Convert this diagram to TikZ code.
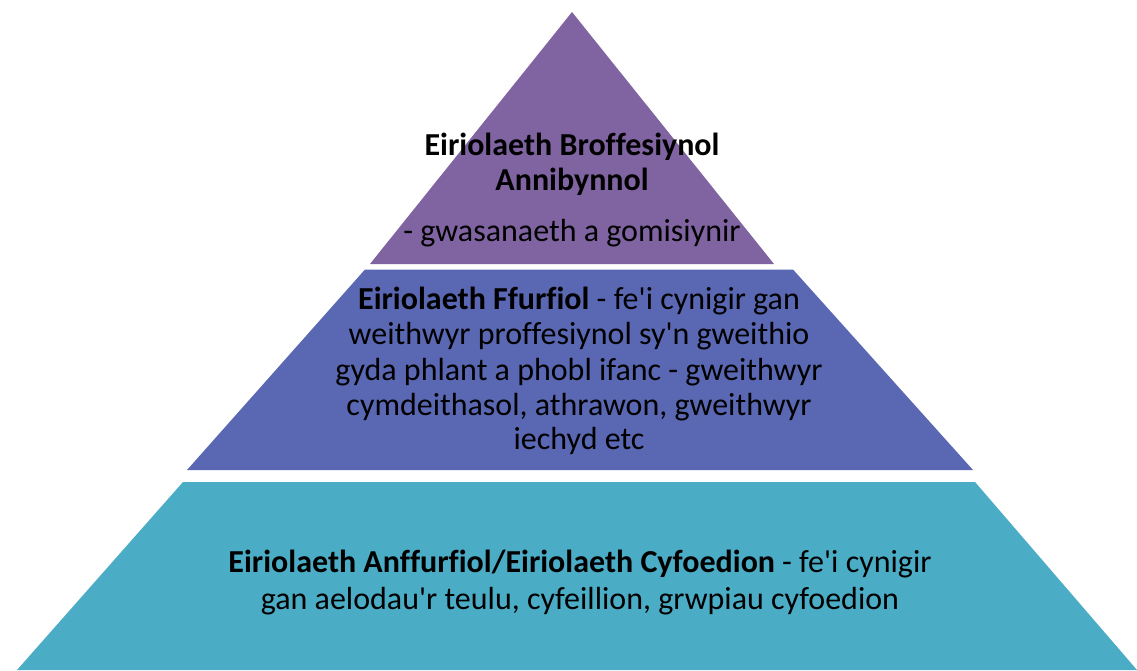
\documentclass[tikz,border=0pt]{standalone}
\usepackage{fontspec}
\setmainfont{Carlito}[Ligatures={NoCommon}]
\definecolor{toplayer}{HTML}{8064A2}
\definecolor{midlayer}{HTML}{5A67B3}
\definecolor{botlayer}{HTML}{4BACC6}
\newcommand{\ap}{\textquotesingle}
\begin{document}
\begin{tikzpicture}[x=1pt,y=-1pt,
  lbl/.style={anchor=base,inner sep=0pt,text=black,font=\fontsize{32}{35}\selectfont}]
\useasboundingbox (0,0) rectangle (1137,670);
\fill[white] (0,0) rectangle (1137,670);
% layers
\fill[toplayer] (572,12) -- (774,264) -- (370,264) -- cycle;
\fill[midlayer] (365,269.5) -- (793,269.5) -- (973,470) -- (187,470) -- cycle;
\fill[botlayer] (183,482) -- (975,482) -- (1137,670) -- (17,670) -- cycle;
% top text
\node[lbl] (t1) at (572,155) {\textbf{Eiriolaeth Broffesiynol}};
\node[lbl] (t2) at (572,190) {\textbf{Annibynnol}};
\node[lbl] (t3) at (572,241) {- gwasanaeth a gomisiynir};
% middle text
\node[lbl] (m1) at (579,309) {\textbf{Eiriolaeth Ffurfiol} - fe\ap i cynigir gan};
\node[lbl] (m2) at (579,344) {weithwyr proffesiynol sy\ap n gweithio};
\node[lbl] (m3) at (579,380) {gyda phlant a phobl ifanc - gweithwyr};
\node[lbl] (m4) at (579,415) {cymdeithasol, athrawon, gweithwyr};
\node[lbl] (m5) at (579,449) {iechyd etc};
% bottom text
\node[lbl] (b1) at (580,572) {\textbf{Eiriolaeth Anffurfiol/Eiriolaeth Cyfoedion} - fe\ap i cynigir};
\node[lbl] (b2) at (580,609) {gan aelodau\ap r teulu, cyfeillion, grwpiau cyfoedion};
\end{tikzpicture}
\end{document}
